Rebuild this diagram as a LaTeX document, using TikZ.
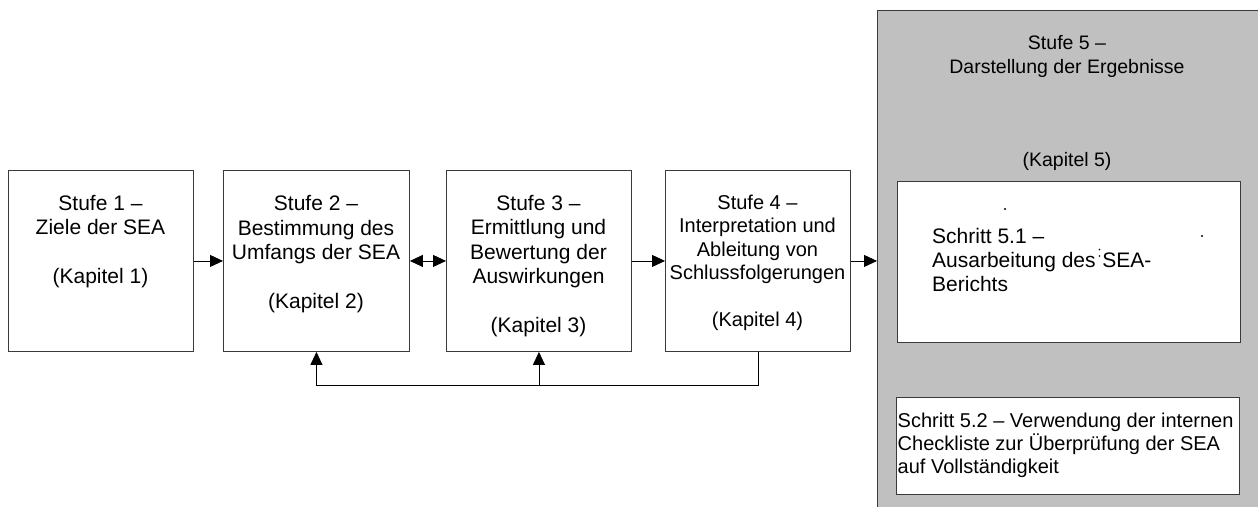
\documentclass[tikz,border=0pt]{standalone}
\usepackage{fontspec}
\setmainfont{Liberation Sans}
\usetikzlibrary{arrows.meta}
\definecolor{boxline}{HTML}{3A3A3A}
\definecolor{panel}{HTML}{C0C0C0}
\tikzset{
  stage/.style={draw=boxline, line width=0.9pt, fill=white, minimum width=185pt, minimum height=181pt, inner sep=0pt, anchor=north west},
  stagetext/.style={inner sep=0pt, anchor=north, align=center},
  arr/.style={line width=0.9pt, -{Triangle[length=13pt,width=12pt]}},
  darr/.style={line width=0.9pt, {Triangle[length=13pt,width=12pt]}-{Triangle[length=13pt,width=12pt]}},
  steptext/.style={inner sep=0pt, anchor=north west, align=left},
  fa/.style={font=\fontsize{21}{24.5}\selectfont},
  fb/.style={font=\fontsize{20}{23.5}\selectfont},
}
\newcommand{\topstrut}{\rule{0pt}{16pt}}
\begin{document}
\begin{tikzpicture}[x=1pt,y=-1pt]
\useasboundingbox (0,0) rectangle (1258,506);
\clip (0,0) rectangle (1258,506);
% panel for Stufe 5
\node[draw=boxline, line width=0.9pt, fill=panel, minimum width=420pt, minimum height=520pt, inner sep=0pt, anchor=north west] (g) at (877,10) {};
\node[stagetext, font=\fontsize{19.5}{24}\selectfont] (t5) at (1067,33) {\topstrut Stufe 5 --\\Darstellung der Ergebnisse\\[69pt](Kapitel 5)};
% Schritt 5.1
\node[draw=boxline, line width=0.9pt, fill=white, minimum width=343pt, minimum height=161pt, inner sep=0pt, anchor=north west] (s1) at (897,181) {};
\node[steptext, font=\fontsize{21}{24}\selectfont] (s1t) at (932,227) {\topstrut Schritt 5.1 --\\Ausarbeitung des\hspace{1pt} SEA-\\Berichts};
\fill (1005,209) circle (1.1pt);
\fill (1202,236) circle (1.1pt);
\fill (1099.5,249.5) circle (0.9pt);
\fill (1099.5,256) circle (0.9pt);
% Schritt 5.2
\node[draw=boxline, line width=0.9pt, fill=white, minimum width=343pt, minimum height=97pt, inner sep=0pt, anchor=north west] (s2) at (896,397) {};
\node[steptext, font=\fontsize{20}{23.3}\selectfont] (s2t) at (897.5,411) {\topstrut Schritt 5.2 -- Verwendung der internen\\Checkliste zur Überprüfung der SEA\\auf Vollständigkeit};
% stage boxes
\node[stage] (b1) at (8,170) {};
\node[stage, minimum width=186pt] (b2) at (223,170) {};
\node[stage] (b3) at (446,170) {};
\node[stage] (b4) at (665,170) {};
\node[stagetext, fa] (t1) at (100.5,194) {\topstrut Stufe 1 --\\Ziele der SEA\\[24.5pt](Kapitel 1)};
\node[stagetext, fa] (t2) at (316,194.5) {\topstrut Stufe 2 --\\Bestimmung des\\Umfangs der SEA\\[24.5pt](Kapitel 2)};
\node[stagetext, fa] (t3) at (538.5,194) {\topstrut Stufe 3 --\\Ermittlung und\\Bewertung der\\Auswirkungen\\[24.5pt](Kapitel 3)};
\node[stagetext, fb] (t4) at (757.5,193) {\topstrut Stufe 4 --\\Interpretation und\\Ableitung von\\Schlussfolgerungen\\[23.5pt](Kapitel 4)};
% connectors
\draw[arr] (b1.east) -- (b2.west);
\draw[darr] (b2.east) -- (b3.west);
\draw[arr] (b3.east) -- (b4.west);
\draw[arr] (b4.east) -- (b4.east -| g.west);
\coordinate (fb) at ([yshift=-34pt]b4.south);
\draw[arr] (b4.south) -- (fb) -| (b2.south);
\draw[arr] (b3.south |- fb) -- (b3.south);
\end{tikzpicture}
\end{document}
